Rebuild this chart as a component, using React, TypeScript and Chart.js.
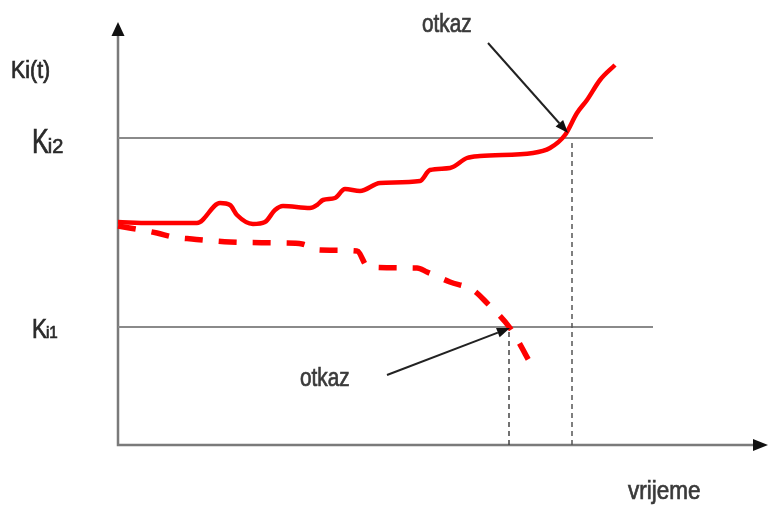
import React, { useEffect, useRef } from "react";
import { Chart, registerables } from "chart.js";
Chart.register(...registerables);

// time axis and K axis values
const solidT = [0, 32, 79, 102, 112, 119, 135, 147, 157, 165, 192, 199, 205, 217, 227, 242, 262, 302, 312, 332, 349, 362, 415, 432, 447, 459, 469, 482, 497];
const solidK = [223, 222, 222, 242, 240, 230, 221, 223, 235, 239, 237, 240, 245, 247, 256, 254, 262, 264, 275, 277, 287, 289, 292, 297, 310, 332, 345, 365, 380];

const dashedT = [0, 39, 55, 74, 112, 165, 184, 202, 239, 250, 299, 309, 332, 355, 369, 392, 415];
const dashedK = [219, 212, 208, 206, 203, 202, 201, 195, 194, 178, 177, 173, 163, 155, 142, 117, 77];

const Ki2 = 307;
const Ki1 = 118;
const thresholdEndT = 535;
const failTimes = [391, 454]; // dashed failure of Ki1, solid failure of Ki2
const xMax = 650;
const yMax = 445;
const yAxisTop = 411;
const xAxisEnd = 637;

const pts = (ts: number[], ks: number[]) => ts.map((t, i) => ({ x: t, y: ks[i] }));

const FONT = '"Liberation Sans", Arial, sans-serif';

const labelPlugin = {
  id: "labels",
  afterDatasetsDraw(chart: any) {
    const { ctx } = chart;
    const xs = chart.scales.x;
    const ys = chart.scales.y;
    const X = (v: number) => xs.getPixelForValue(v);
    const Y = (v: number) => ys.getPixelForValue(v);
    ctx.save();
    // axis arrowheads
    ctx.fillStyle = "#111";
    ctx.beginPath();
    ctx.moveTo(X(0), Y(423));
    ctx.lineTo(X(0) - 6.5, Y(yAxisTop) + 2);
    ctx.lineTo(X(0) + 6.5, Y(yAxisTop) + 2);
    ctx.closePath();
    ctx.fill();
    ctx.beginPath();
    ctx.moveTo(X(xMax), Y(0));
    ctx.lineTo(X(xAxisEnd) - 2, Y(0) - 6);
    ctx.lineTo(X(xAxisEnd) - 2, Y(0) + 6);
    ctx.closePath();
    ctx.fill();

    // "otkaz" arrows
    const arrow = (t0: number, k0: number, t1: number, k1: number) => {
      const x0 = X(t0), y0 = Y(k0), x1 = X(t1), y1 = Y(k1);
      const a = Math.atan2(y1 - y0, x1 - x0);
      const L = 13, W = 5;
      const bx = x1 - L * Math.cos(a), by = y1 - L * Math.sin(a);
      ctx.strokeStyle = "#222";
      ctx.lineWidth = 2;
      ctx.beginPath();
      ctx.moveTo(x0, y0);
      ctx.lineTo(bx, by);
      ctx.stroke();
      ctx.fillStyle = "#111";
      ctx.beginPath();
      ctx.moveTo(x1, y1);
      ctx.lineTo(bx + W * Math.sin(a), by - W * Math.cos(a));
      ctx.lineTo(bx - W * Math.sin(a), by + W * Math.cos(a));
      ctx.closePath();
      ctx.fill();
    };
    arrow(370, 402, 450, 312);
    arrow(269, 70, 392, 117);

    // texts (narrow, heavy look of the original)
    const draw = (s: string, px: number, py: number, size: number, sx: number, color: string) => {
      ctx.save();
      ctx.translate(px, py);
      ctx.scale(sx, 1);
      ctx.font = `${size}px ${FONT}`;
      ctx.fillStyle = color;
      ctx.strokeStyle = color;
      ctx.lineWidth = 0.7;
      ctx.textAlign = "left";
      ctx.textBaseline = "alphabetic";
      ctx.fillText(s, 0, 0);
      ctx.strokeText(s, 0, 0);
      const w = ctx.measureText(s).width * sx;
      ctx.restore();
      return w;
    };
    const txt = (s: string, t: number, k: number, size: number, sx: number, color = "#3a3a3a") =>
      draw(s, X(t), Y(k), size, sx, color);
    txt("otkaz", 304, 413, 26, 0.8);
    txt("otkaz", 182, 59, 26, 0.8);
    txt("vrijeme", 510, -54, 25, 0.9);
    txt("Ki(t)", -107, 367, 23, 0.93, "#2a2a2a");
    const sub = (s: string, t: number, k: number, big: number, sx: number, small: number) => {
      const w = draw("K", X(t), Y(k), big, sx, "#2a2a2a");
      draw(s, X(t) + w - 1, Y(k), small, 0.95, "#2a2a2a");
    };
    sub("i2", -86, 292, 35, 0.72, 21);
    sub("i1", -86, 107, 28, 0.8, 16);
    ctx.restore();
  },
};

export default function App() {
  const ref = useRef<HTMLCanvasElement>(null);
  useEffect(() => {
    document.body.style.margin = "0";
    const gray = "#8a8a8a";
    const axisGray = "#7a7a7a";
    const chart = new Chart(ref.current!, {
      type: "scatter",
      data: {
        datasets: [
          {
            data: pts(solidT, solidK),
            showLine: true,
            borderColor: "#ff0000",
            borderWidth: 4.5,
            pointRadius: 0,
            cubicInterpolationMode: "monotone",
            clip: false,
          },
          {
            data: pts(dashedT, dashedK),
            showLine: true,
            borderColor: "#ff0000",
            borderWidth: 5.5,
            borderDash: [18, 16],
            pointRadius: 0,
            cubicInterpolationMode: "monotone",
            clip: false,
          },
          {
            data: [{ x: failTimes[0], y: 0 }, { x: failTimes[0], y: Ki1 - 3 }],
            showLine: true,
            borderColor: "#444",
            borderWidth: 1.5,
            borderDash: [5, 4],
            pointRadius: 0,
            clip: false,
          },
          {
            data: [{ x: failTimes[1], y: 0 }, { x: failTimes[1], y: Ki2 - 2 }],
            showLine: true,
            borderColor: "#555",
            borderWidth: 1.5,
            borderDash: [5, 4],
            pointRadius: 0,
            clip: false,
          },
          {
            data: [{ x: 0, y: Ki2 }, { x: thresholdEndT, y: Ki2 }],
            showLine: true,
            borderColor: gray,
            borderWidth: 2,
            pointRadius: 0,
            clip: false,
          },
          {
            data: [{ x: 0, y: Ki1 }, { x: thresholdEndT, y: Ki1 }],
            showLine: true,
            borderColor: gray,
            borderWidth: 2,
            pointRadius: 0,
            clip: false,
          },
          {
            data: [{ x: 0, y: yAxisTop }, { x: 0, y: 0 }, { x: xAxisEnd, y: 0 }],
            showLine: true,
            borderColor: axisGray,
            borderWidth: 2.5,
            pointRadius: 0,
            clip: false,
          },
        ],
      },
      options: {
        animation: false,
        responsive: true,
        maintainAspectRatio: false,
        layout: { padding: { left: 118, right: 0, top: 0, bottom: 61 } },
        plugins: { legend: { display: false }, tooltip: { enabled: false } },
        scales: {
          x: { type: "linear", min: 0, max: xMax, display: false },
          y: { type: "linear", min: 0, max: yMax, display: false },
        },
      },
      plugins: [labelPlugin],
    });
    return () => chart.destroy();
  }, []);
  return (
    <div style={{ width: 768, height: 506, position: "relative" }}>
      <canvas ref={ref} />
    </div>
  );
}
